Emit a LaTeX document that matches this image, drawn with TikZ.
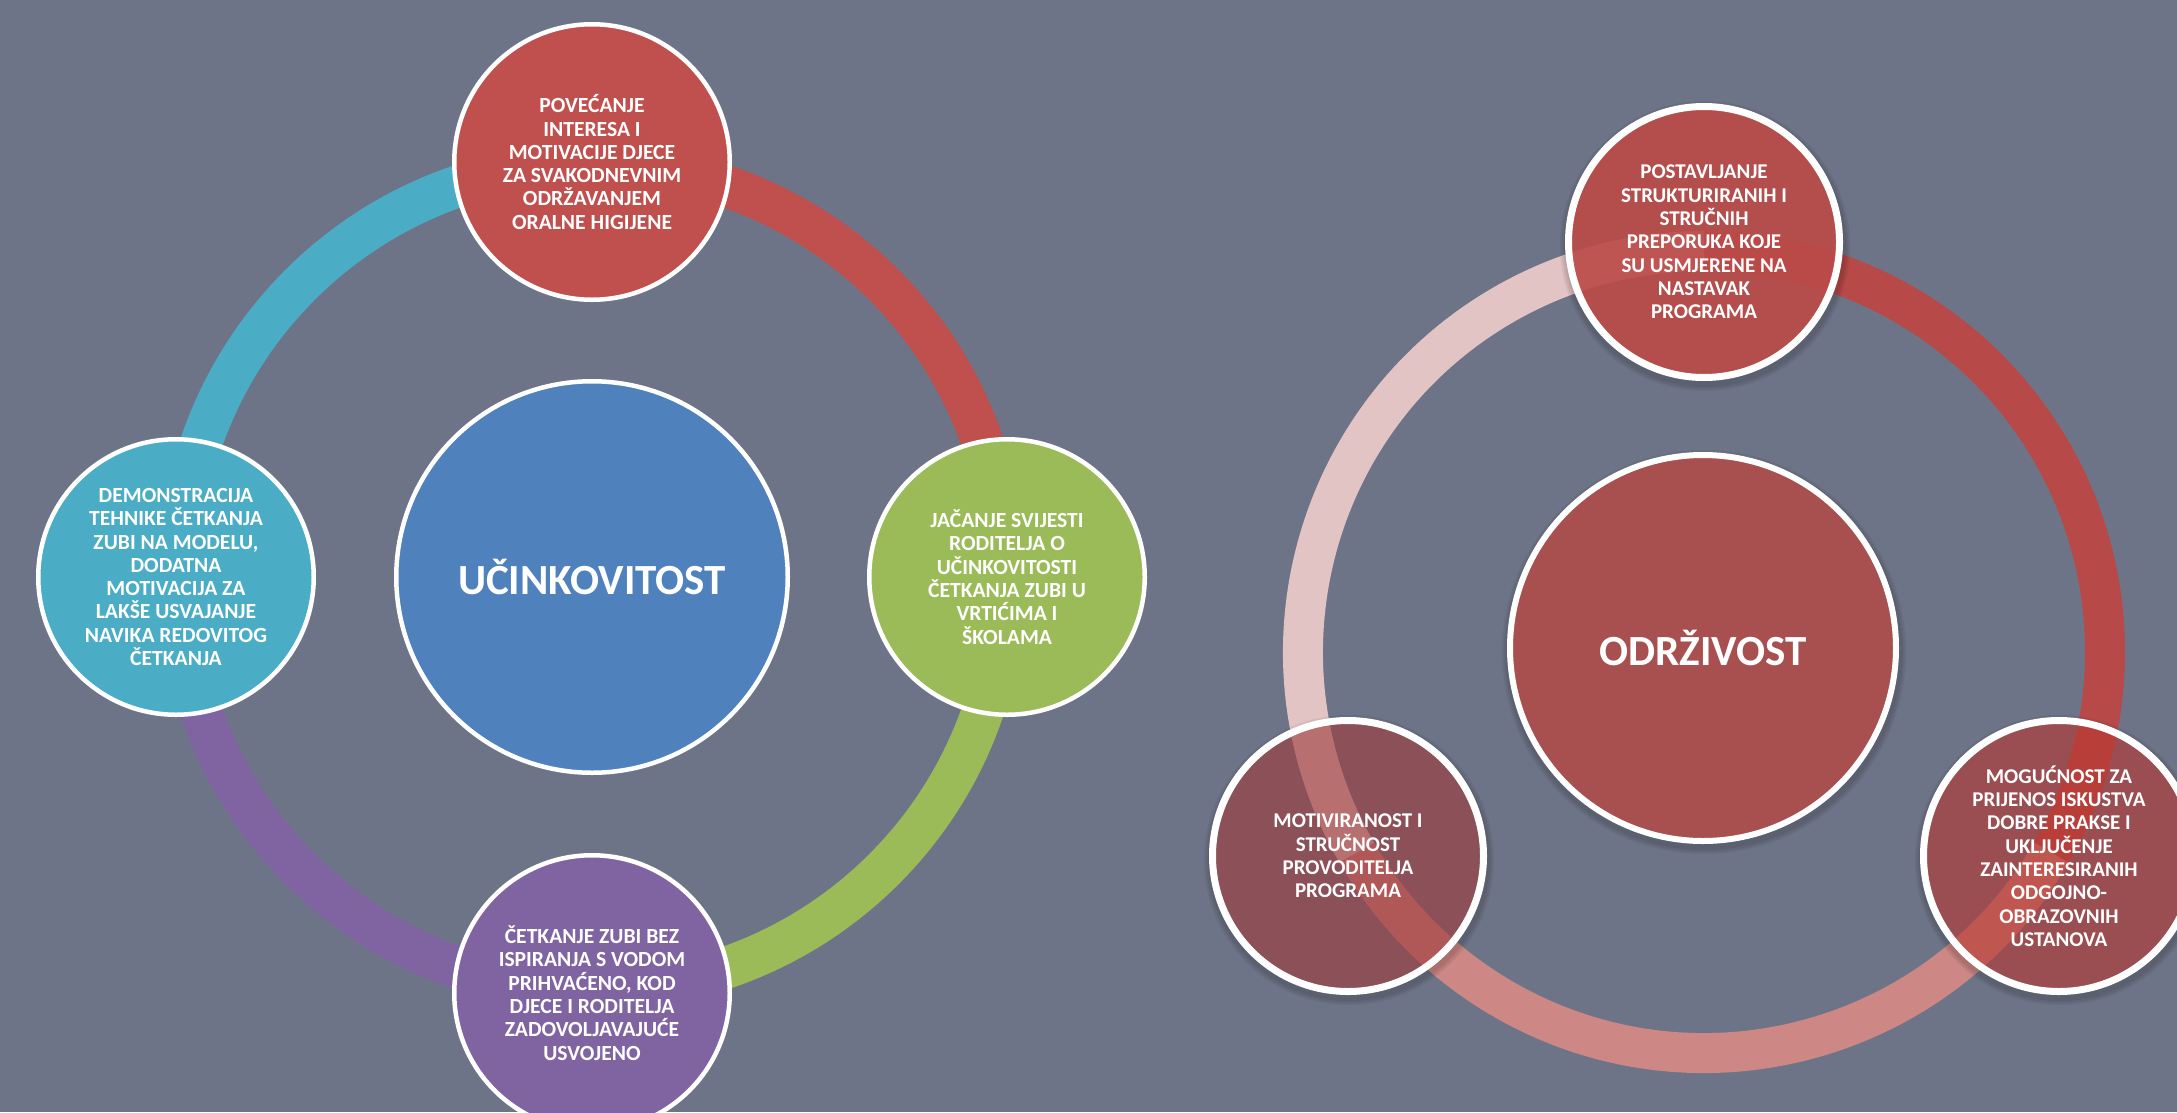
\documentclass[tikz,border=0pt]{standalone}
\usepackage{fontspec}
\setmainfont{Carlito}
\definecolor{bg}{RGB}{110,116,135}
\definecolor{cRed}{HTML}{C0504D}
\definecolor{cGreen}{HTML}{9BBB59}
\definecolor{cPurple}{HTML}{8064A2}
\definecolor{cAqua}{HTML}{4BACC6}
\definecolor{cBlue}{HTML}{4F81BD}
\definecolor{rRed}{RGB}{183,74,72}
\definecolor{rPink}{RGB}{205,135,132}
\definecolor{rLight}{RGB}{227,196,197}
\definecolor{rHub}{RGB}{168,80,80}
\definecolor{rTop}{RGB}{187,74,71}
\definecolor{rRight}{RGB}{185,55,48}
\definecolor{rLeft}{RGB}{158,58,59}
\tikzset{
  ringL/.style={line width=42pt},
  ringR/.style={line width=40pt},
  bubL/.style={circle, draw=white, line width=4.5pt, minimum size=275.5pt, inner sep=0pt,
    text=white, align=center, font=\bfseries\fontsize{21.6}{23.3}\selectfont},
  hubL/.style={circle, draw=white, line width=4.5pt, minimum size=391.5pt, inner sep=0pt,
    text=white, font=\bfseries\fontsize{43}{50}\selectfont},
  bubR/.style={circle, draw=white, line width=7pt, minimum size=271pt, inner sep=0pt,
    text=white, align=center, font=\bfseries\fontsize{21}{23.3}\selectfont},
  hubR/.style={circle, draw=white, line width=6pt, minimum size=386pt, inner sep=0pt,
    text=white, font=\bfseries\fontsize{43}{48}\selectfont},
  softshadow/.style={fill=black, fill opacity=0.06, even odd rule},
}
\begin{document}
\begin{tikzpicture}[x=1pt,y=-1pt]
\useasboundingbox (0,0) rectangle (2177,1112);
\clip (0,0) rectangle (2177,1112);
\fill[bg] (0,0) rectangle (2177,1112);

% ---------- left cycle ----------
\coordinate (LC) at (592,577);
\draw[ringL, cRed]    (LC) ++(-90:413) arc[start angle=-90, end angle=0,   radius=413];
\draw[ringL, cGreen]  (LC) ++(0:413)   arc[start angle=0,   end angle=90,  radius=413];
\draw[ringL, cPurple] (LC) ++(90:413)  arc[start angle=90,  end angle=180, radius=413];
\draw[ringL, cAqua]   (LC) ++(180:413) arc[start angle=180, end angle=270, radius=413];

\node[hubL, fill=cBlue] (hubL) at (LC) {UČINKOVITOST};
\node[bubL, fill=cRed] (lt) at (592,162) {POVEĆANJE\\INTERESA I\\MOTIVACIJE DJECE\\ZA SVAKODNEVNIM\\ODRŽAVANJEM\\ORALNE HIGIJENE};
\node[bubL, fill=cGreen] (lr) at (1007,577) {JAČANJE SVIJESTI\\RODITELJA O\\UČINKOVITOSTI\\ČETKANJA ZUBI U\\VRTIĆIMA I\\ŠKOLAMA};
\node[bubL, fill=cPurple] (lb) at (592,993) {ČETKANJE ZUBI BEZ\\ISPIRANJA S VODOM\\PRIHVAĆENO, KOD\\DJECE I RODITELJA\\ZADOVOLJAVAJUĆE\\USVOJENO};
\node[bubL, fill=cAqua] (ll) at (176,577) {DEMONSTRACIJA\\TEHNIKE ČETKANJA\\ZUBI NA MODELU,\\DODATNA\\MOTIVACIJA ZA\\LAKŠE USVAJANJE\\NAVIKA REDOVITOG\\ČETKANJA};

% ---------- right cycle ----------
\coordinate (RC) at (1704,652);
\draw[ringR, rRed]   (RC) ++(-90:401) arc[start angle=-90, end angle=30,  radius=401];
\draw[ringR, rPink]  (RC) ++(30:401)  arc[start angle=30,  end angle=150, radius=401];
\draw[ringR, rLight] (RC) ++(150:401) arc[start angle=150, end angle=270, radius=401];

% soft shadows (outside the discs only)
\foreach \cx/\cy/\r in {1703/648/196, 1704/242/139, 1348/856/139, 2059/856/139}{
  \foreach \d in {2,4,6}{
    \fill[softshadow] (\cx+1,\cy+4) circle[radius=\r+\d] (\cx,\cy) circle[radius=\r-1];
  }
}

\node[hubR, fill=rHub] (hubR) at (1703,648) {ODRŽIVOST};
\node[bubR, fill=rTop, fill opacity=0.9, text opacity=1] (rt) at (1704,242) {POSTAVLJANJE\\STRUKTURIRANIH I\\STRUČNIH\\PREPORUKA KOJE\\SU USMJERENE NA\\NASTAVAK\\PROGRAMA};
\node[bubR, fill=rLeft, fill opacity=0.61, text opacity=1] (rl) at (1348,856) {MOTIVIRANOST I\\STRUČNOST\\PROVODITELJA\\PROGRAMA};
\node[bubR, fill=rRight, fill opacity=0.61, text opacity=1] (rr) at (2059,856) {MOGUĆNOST ZA\\PRIJENOS ISKUSTVA\\DOBRE PRAKSE I\\UKLJUČENJE\\ZAINTERESIRANIH\\ODGOJNO-\\OBRAZOVNIH\\USTANOVA};
\end{tikzpicture}
\end{document}
